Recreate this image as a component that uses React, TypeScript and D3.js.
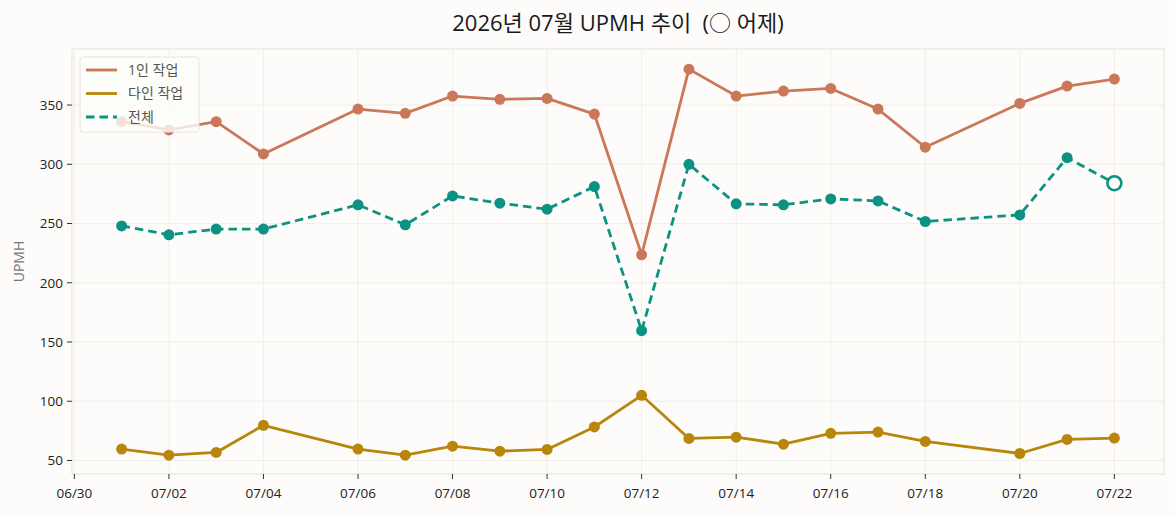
import React from 'react';
import * as d3 from 'd3';

// 2026-07 days with data (07/05, 07/19 missing)
const days = ['07/01', '07/02', '07/03', '07/04', '07/06', '07/07', '07/08', '07/09', '07/10', '07/11',
  '07/12', '07/13', '07/14', '07/15', '07/16', '07/17', '07/18', '07/20', '07/21', '07/22'];

const solo = [336, 329, 336, 308.7, 346.6, 343, 357.6, 354.8, 355.6, 342.4,
  223.6, 380.3, 357.6, 361.8, 364, 346.6, 314.4, 351.4, 366, 371.9];

const multi = [59.6, 54.5, 56.8, 79.7, 59.6, 54.5, 62.1, 57.9, 59.3, 78.3,
  105, 68.6, 69.7, 63.8, 72.9, 74, 66.1, 55.9, 67.8, 68.9];

const total = [248, 240.5, 245.3, 245.3, 265.8, 248.9, 273.3, 267.2, 262.1, 281.2,
  159.6, 300, 266.6, 265.8, 270.8, 269.1, 251.7, 257.3, 305.6, 284];

const xTicks = ['06/30', '07/02', '07/04', '07/06', '07/08', '07/10', '07/12', '07/14', '07/16', '07/18', '07/20', '07/22'];
const yTicks = [50, 100, 150, 200, 250, 300, 350];

const W = 1175;
const H = 514;
const left = 72, right = 1164, top = 49, bottom = 474;
const bg = '#fdfcfa';
const gridColor = '#eeebe5';
const font = "'Open Sans', 'Noto Sans CJK KR', sans-serif";

const parse = (s: string) => {
  const [m, d] = s.split('/').map(Number);
  return new Date(2026, m - 1, d);
};

const series = [
  { name: '1인 작업', values: solo, color: '#cb7759', dash: '' },
  { name: '다인 작업', values: multi, color: '#b8860b', dash: '' },
  { name: '전체', values: total, color: '#0b9282', dash: '8.5,5' },
];

const App: React.FC = () => {
  const dates = days.map(parse);
  const dayMs = 86400000;
  const x = d3.scaleTime()
    .domain([new Date(+dates[0] - 1.05 * dayMs), new Date(+dates[dates.length - 1] + 1.05 * dayMs)])
    .range([left, right]);
  const y = d3.scaleLinear().domain([38.6, 397.3]).range([bottom, top]);

  const line = d3.line<number>()
    .x((_, i) => x(dates[i]))
    .y((d) => y(d));

  const lastIdx = days.length - 1;

  return (
    <div style={{ position: 'fixed', left: 0, top: 0 }}>
      <svg width={W} height={H} style={{ display: 'block', background: bg, fontFamily: font }}>
        <rect x={0} y={0} width={W} height={H} fill={bg} />
        <text x={(left + right) / 2} y={31} textAnchor="middle" fontSize={22} fill="#1a1a1a" style={{ whiteSpace: 'pre' }}>
          {'2026년 07월 UPMH 추이  (○ 어제)'}
        </text>

        {/* grid */}
        {xTicks.map((t) => (
          <line key={'gx' + t} x1={x(parse(t))} x2={x(parse(t))} y1={top} y2={bottom} stroke={gridColor} strokeWidth={0.8} />
        ))}
        {yTicks.map((t) => (
          <line key={'gy' + t} x1={left} x2={right} y1={y(t)} y2={y(t)} stroke={gridColor} strokeWidth={0.8} />
        ))}

        <rect x={left} y={top} width={right - left} height={bottom - top} fill="none" stroke="#e6e2da" strokeWidth={1} />

        {/* x axis */}
        {xTicks.map((t) => (
          <g key={'tx' + t} transform={`translate(${x(parse(t))},${bottom})`}>
            <line y1={0} y2={5} stroke="#333" strokeWidth={1} />
            <text y={24} textAnchor="middle" fontSize={13.5} fill="#222">{t}</text>
          </g>
        ))}
        {/* y axis */}
        {yTicks.map((t) => (
          <g key={'ty' + t} transform={`translate(${left},${y(t)})`}>
            <line x1={-5} x2={0} stroke="#333" strokeWidth={1} />
            <text x={-9} dy="0.35em" textAnchor="end" fontSize={13.5} fill="#222">{t}</text>
          </g>
        ))}
        <text transform={`translate(24,${(top + bottom) / 2}) rotate(-90)`} textAnchor="middle" fontSize={14} fill="#777">
          UPMH
        </text>

        {/* series */}
        {series.map((s) => (
          <g key={s.name}>
            <path d={line(s.values) || ''} fill="none" stroke={s.color} strokeWidth={2.8}
              strokeDasharray={s.dash || undefined} strokeLinejoin="round" />
            {s.values.map((v, i) => {
              if (s.name === '전체' && i === lastIdx) return null;
              return <circle key={i} cx={x(dates[i])} cy={y(v)} r={5.5} fill={s.color} />;
            })}
          </g>
        ))}
        {/* yesterday marker */}
        <circle cx={x(dates[lastIdx])} cy={y(total[lastIdx])} r={7} fill={bg} stroke="#0b9282" strokeWidth={2.6} />

        {/* legend */}
        <g>
          <rect x={80} y={57} width={119} height={75} rx={3} fill={bg} fillOpacity={0.8} stroke="#e8e4dc" strokeWidth={1} />
          {series.map((s, i) => {
            const ly = 70 + i * 23.5;
            return (
              <g key={'lg' + s.name}>
                <line x1={86} x2={117} y1={ly} y2={ly} stroke={s.color} strokeWidth={2.8} strokeDasharray={s.dash || undefined} />
                <text x={128} y={ly} dy="0.35em" fontSize={14} fill="#555">{s.name}</text>
              </g>
            );
          })}
        </g>
      </svg>
    </div>
  );
};

export default App;
